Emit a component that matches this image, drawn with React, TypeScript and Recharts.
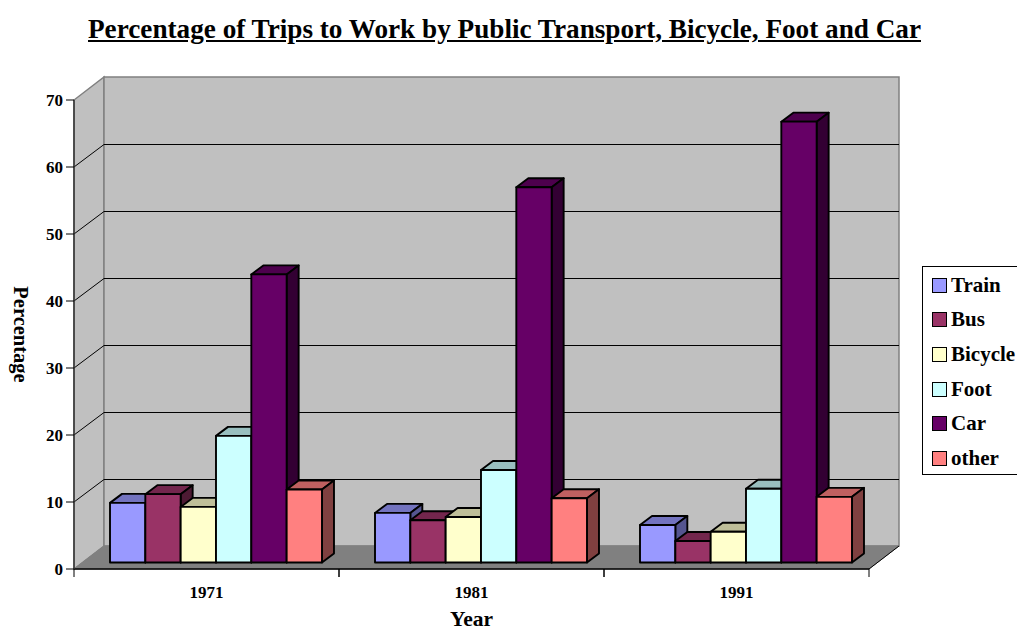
import { Bar, BarChart, CartesianGrid, Legend, XAxis, YAxis, usePlotArea } from "recharts"

const categories = ["1971", "1981", "1991"]
const train = [8.9, 7.4, 5.6]
const bus = [10.2, 6.3, 3.2]
const bicycle = [8.3, 6.8, 4.6]
const foot = [18.9, 13.8, 11]
const car = [43, 56, 65.8]
const other = [10.9, 9.6, 9.8]
const yTicks = [0, 10, 20, 30, 40, 50, 60, 70]

const data = categories.map((year, i) => ({
  year,
  Train: train[i],
  Bus: bus[i],
  Bicycle: bicycle[i],
  Foot: foot[i],
  Car: car[i],
  other: other[i],
}))

const series = [
  { key: "Train", front: "#9999ff", top: "#7373bf", side: "#555590" },
  { key: "Bus", front: "#993366", top: "#73264d", side: "#4d1a33" },
  { key: "Bicycle", front: "#ffffcc", top: "#bfbf99", side: "#808066" },
  { key: "Foot", front: "#ccffff", top: "#99bfbf", side: "#668080" },
  { key: "Car", front: "#660066", top: "#4d004d", side: "#330033" },
  { key: "other", front: "#ff8080", top: "#bf6060", side: "#804040" },
]

const FONT = '"Liberation Serif", "Times New Roman", serif'
const WALL_DX = 30
const WALL_DY = -23
const BAR_DX = 9
const BAR_DY = -6.5
const DEPTH_DX = 12
const DEPTH_DY = -9
const BAND = 265

function Walls() {
  const plot = usePlotArea()
  if (!plot) return null
  const left = plot.x
  const right = plot.x + plot.width
  const top = plot.y
  const bottom = plot.y + plot.height
  const bx = left + WALL_DX
  const bxr = right + WALL_DX
  const by = bottom + WALL_DY
  const byt = top + WALL_DY
  return (
    <g>
      <polygon
        points={`${left},${bottom} ${bx},${by} ${bx},${byt} ${left},${top}`}
        fill="#c0c0c0"
        stroke="#808080"
        strokeWidth={1.5}
      />
      <rect x={bx} y={byt} width={bxr - bx} height={by - byt} fill="#c0c0c0" stroke="#808080" strokeWidth={1.5} />
      <polygon
        points={`${left},${bottom} ${right},${bottom} ${bxr},${by} ${bx},${by}`}
        fill="#808080"
        stroke="#808080"
      />
      <line x1={right} y1={bottom} x2={bxr} y2={by} stroke="#000" />
    </g>
  )
}

// grid line runs along the left wall and then across the back wall
function gridLine(props: any) {
  const { x1, x2, y1, key } = props
  if (y1 <= 101 || y1 >= 568) return <g key={key} />
  const backY = y1 + WALL_DY + 0.5
  return (
    <polyline
      key={key}
      points={`${x1},${y1} ${x1 + WALL_DX},${backY} ${x2 + WALL_DX},${backY}`}
      fill="none"
      stroke="#000"
      strokeWidth={1}
    />
  )
}

function Cuboid(props: any) {
  const { x, y, width, height, fill, side, top } = props
  const fx = x + BAR_DX
  const fy = y + BAR_DY
  const fr = fx + width
  const fb = fy + height
  return (
    <g stroke="#000" strokeWidth={1.9} strokeLinejoin="round">
      <polygon
        points={`${fx},${fy} ${fx + DEPTH_DX},${fy + DEPTH_DY} ${fr + DEPTH_DX},${fy + DEPTH_DY} ${fr},${fy}`}
        fill={top}
      />
      <polygon
        points={`${fr},${fy} ${fr + DEPTH_DX},${fy + DEPTH_DY} ${fr + DEPTH_DX},${fb + DEPTH_DY} ${fr},${fb}`}
        fill={side}
      />
      <rect x={fx} y={fy} width={width} height={height} fill={fill} />
    </g>
  )
}

function YearTick(props: any) {
  const { x, y, payload } = props
  return (
    <g>
      <line x1={x - BAND / 2} y1={569} x2={x - BAND / 2} y2={577} stroke="#000" />
      <line x1={x + BAND / 2} y1={569} x2={x + BAND / 2} y2={577} stroke="#000" />
      <text x={x} y={y + 21} textAnchor="middle" fontFamily={FONT} fontWeight="bold" fontSize={17} fill="#000">
        {payload.value}
      </text>
    </g>
  )
}

function LegendBox(props: any) {
  return (
    <div
      style={{
        width: 95,
        height: 209,
        boxSizing: "border-box",
        border: "1px solid #000",
        borderRight: "none",
        background: "#fff",
        fontFamily: FONT,
        fontWeight: "bold",
        fontSize: 21,
        color: "#000",
        paddingTop: 1,
      }}
    >
      {props.payload.map((item: any) => (
        <div key={item.value} style={{ height: 34.6, display: "flex", alignItems: "center", paddingLeft: 9 }}>
          <span
            style={{
              width: 15,
              height: 15,
              boxSizing: "border-box",
              border: "1.5px solid #000",
              background: item.color,
              marginRight: 4,
              flex: "none",
            }}
          />
          {item.value}
        </div>
      ))}
    </div>
  )
}

export default function App() {
  return (
    <div style={{ position: "absolute", left: 0, top: 0, width: 1017, height: 627, overflow: "hidden", background: "#fff" }}>
      <div
        style={{
          position: "absolute",
          left: 0,
          top: 14,
          width: 1009,
          textAlign: "center",
          fontFamily: FONT,
          fontWeight: "bold",
          fontSize: 27.2,
          textDecoration: "underline",
          color: "#000",
          zIndex: 2,
        }}
      >
        Percentage of Trips to Work by Public Transport, Bicycle, Foot and Car
      </div>
      <BarChart
        width={1017}
        height={627}
        data={data}
        barSize={35.33}
        barGap={0}
        margin={{ top: 100, right: 148, bottom: 0, left: 0 }}
      >
        <Walls />
        <CartesianGrid vertical={false} horizontal={gridLine} zIndex={100} />
        <XAxis
          dataKey="year"
          height={58}
          axisLine={{ stroke: "#000", strokeWidth: 1.5 }}
          tickLine={false}
          tick={<YearTick />}
          interval={0}
          label={{
            value: "Year",
            position: "insideBottom",
            offset: 1,
            fontFamily: FONT,
            fontWeight: "bold",
            fontSize: 21.5,
            fill: "#000",
          }}
        />
        <YAxis
          width={74}
          domain={[0, 70]}
          ticks={yTicks}
          interval={0}
          axisLine={{ stroke: "#333", strokeWidth: 1.5 }}
          tickLine={{ stroke: "#000" }}
          tickSize={8}
          tickMargin={3}
          tick={{ fontFamily: FONT, fontWeight: "bold", fontSize: 17, fill: "#000" }}
          label={{
            value: "Percentage",
            angle: 90,
            position: "insideLeft",
            offset: 21,
            textAnchor: "middle",
            fontFamily: FONT,
            fontWeight: "bold",
            fontSize: 20.5,
            fill: "#000",
          }}
        />
        <Legend
          layout="vertical"
          align="center"
          verticalAlign="middle"
          itemSorter={null}
          wrapperStyle={{ left: 922, top: 266, width: 95, height: 209 }}
          content={<LegendBox />}
        />
        {series.map((s) => (
          <Bar
            key={s.key}
            dataKey={s.key}
            fill={s.front}
            isAnimationActive={false}
            shape={<Cuboid side={s.side} top={s.top} />}
          />
        ))}
      </BarChart>
    </div>
  )
}
